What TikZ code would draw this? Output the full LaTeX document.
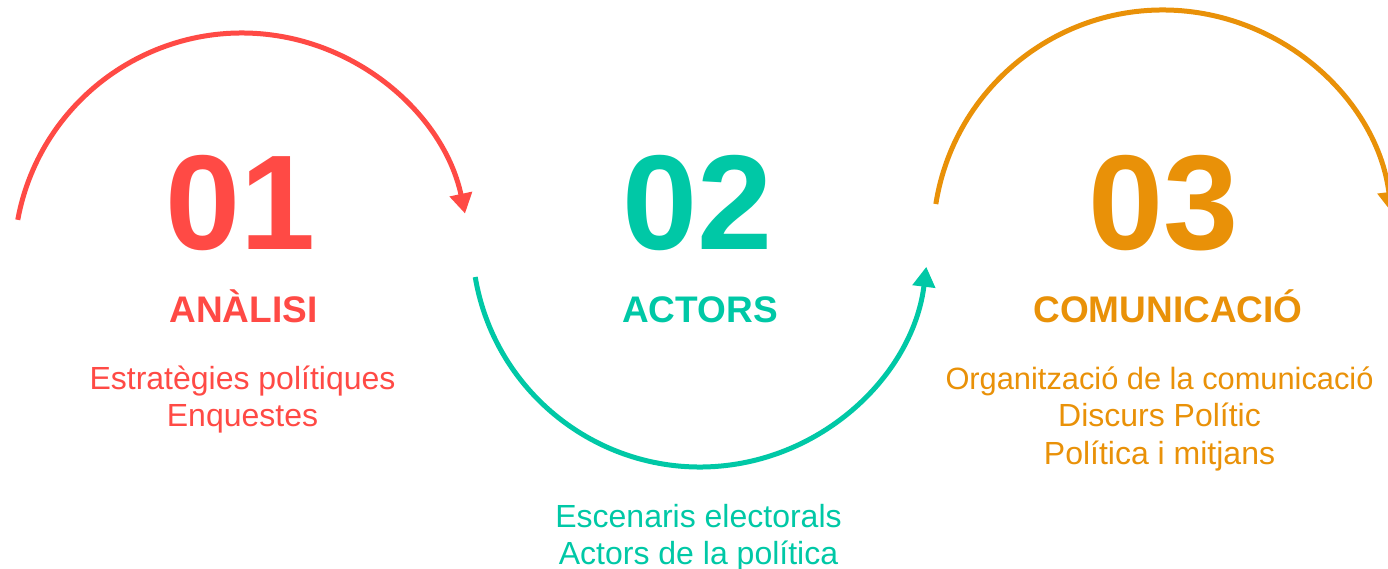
\documentclass[tikz,border=0pt]{standalone}
\usepackage{fontspec}
\setmainfont{Liberation Sans}
\usetikzlibrary{arrows.meta}
\definecolor{cred}{RGB}{255,74,69}
\definecolor{cteal}{RGB}{0,200,166}
\definecolor{corange}{RGB}{233,145,8}
\tikzset{
  x=1pt, y=1pt,
  arcline/.style={line width=5pt, -{Triangle[length=20pt,width=22pt]}},
  bignum/.style={anchor=base, inner sep=0pt, font=\fontsize{135}{135}\selectfont\bfseries},
  heading/.style={anchor=base, inner sep=0pt, font=\fontsize{37}{40}\selectfont\bfseries},
  body/.style={anchor=base, inner sep=0pt, font=\fontsize{32}{37}\selectfont},
}
\begin{document}
\begin{tikzpicture}
\useasboundingbox (0,0) rectangle (1388,-569);
% arc centres
\coordinate (c1) at (242,-261);
\coordinate (c2) at (700,-239);
\coordinate (c3) at (1163,-240);
\path (c1) ++(169.6:228) coordinate (s1);
\path (c2) ++(189.6:228) coordinate (s2);
\path (c3) ++(171:230) coordinate (s3);
\draw[arcline, cred] (s1) arc[start angle=169.6, end angle=12, radius=228];
\draw[arcline, cteal] (s2) arc[start angle=189.6, end angle=353, radius=228];
\draw[arcline, corange] (s3) arc[start angle=171, end angle=7, radius=230];
% numbers
\node[bignum, text=cred] (n1) at (241,-250) {01};
\node[bignum, text=cteal] (n2) at (698,-250) {02};
\node[bignum, text=corange] (n3) at (1164,-250) {03};
% headings
\node[heading, text=cred] (h1) at (243.5,-322) {ANÀLISI};
\node[heading, text=cteal] (h2) at (700,-322) {ACTORS};
\node[heading, text=corange] (h3) at (1168,-322) {COMUNICACIÓ};
% body text
\node[body, text=cred] (a1) at (242.5,-389) {Estratègies polítiques};
\node[body, text=cred] (a2) at (242.5,-426) {Enquestes};
\node[body, text=cteal] (b1) at (698.5,-527) {Escenaris electorals};
\node[body, text=cteal] (b2) at (698.5,-564) {Actors de la política};
\node[body, text=corange, font=\fontsize{30.8}{37}\selectfont] (o1) at (1159.5,-389) {Organització de la comunicació};
\node[body, text=corange] (o2) at (1159.5,-426) {Discurs Polític};
\node[body, text=corange] (o3) at (1159.5,-464) {Política i mitjans};
\end{tikzpicture}
\end{document}
